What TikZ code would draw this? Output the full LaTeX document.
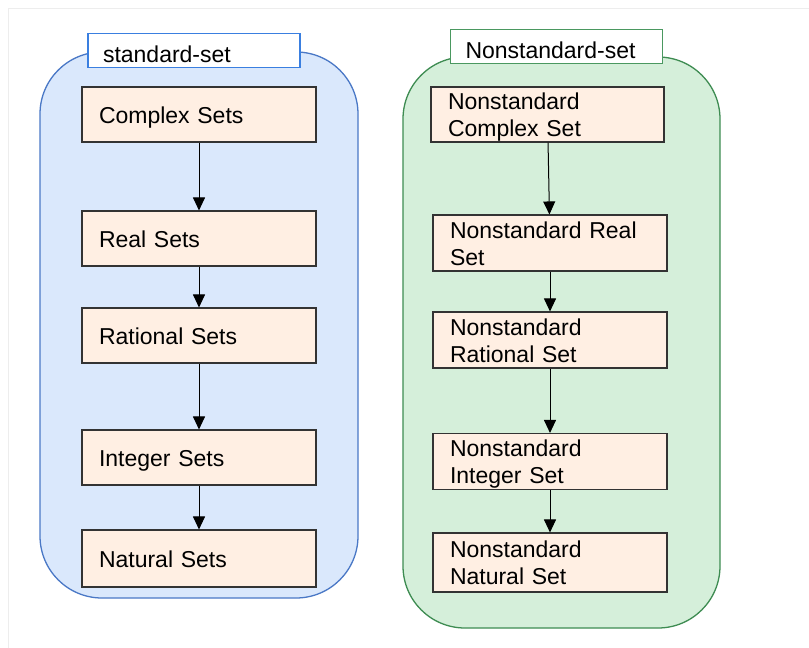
\documentclass[tikz,border=0pt]{standalone}
\usepackage{fontspec}
\setmainfont{Liberation Sans}
\usetikzlibrary{shapes,positioning,fit,calc,arrows.meta}

\definecolor{stdfill}{HTML}{DAE8FC}
\definecolor{stdline}{HTML}{4A78C6}
\definecolor{stdtitle}{HTML}{3A7FE0}
\definecolor{nsfill}{HTML}{D5EFDA}
\definecolor{nsline}{HTML}{3E8C52}
\definecolor{nstitle}{HTML}{4A9860}
\definecolor{setfill}{HTML}{FFEFE3}

\begin{document}
\begin{tikzpicture}[x=1pt,y=-1pt,
    setbox/.style={rectangle, draw=black!80, fill=setfill, line width=1.1pt,
        text width=200pt, inner xsep=17pt, inner ysep=0pt, minimum height=55pt,
        text height=17pt, text depth=0pt, align=left,
        font=\fontsize{23}{27}\selectfont},
    twoline/.style={setbox, text depth=27pt},
    titlebox/.style={rectangle, fill=white, line width=1.1pt,
        minimum width=212pt, minimum height=34pt, inner xsep=15pt, inner ysep=0pt,
        text height=23pt, text depth=0pt,
        text width=182pt, align=left, font=\fontsize{23}{27}\selectfont},
    arr/.style={-{Triangle[width=12pt,length=13pt]}, line width=1pt, black}]

        % Page and faint frame
        \useasboundingbox (0,0) rectangle (809,648);
        \draw[black!7, line width=1pt] (8,648) -- (8,8) -- (809,8);

        % The two containers
        \begin{scope}[line width=1.3pt, rounded corners=62pt]
            \draw[stdline, fill=stdfill] (40,52) rectangle (358,598);
            \draw[nsline, fill=nsfill] (403,57) rectangle (720,628);
        \end{scope}

        % Titles
        \node[titlebox, draw=stdtitle] (stdtitle) at (194,50.5) {standard-set};
        \node[titlebox, draw=nstitle, text height=24pt] (nstitle) at (556.5,46.5) {Nonstandard-set};

        % Standard sets
        \node[setbox] (complex) at (199,114.5) {Complex Sets};
        \node[setbox] (real) at (199,238.5) {Real Sets};
        \node[setbox] (rational) at (199,335.5) {Rational Sets};
        \node[setbox] (integer) at (199,457.5) {Integer Sets};
        \node[setbox, minimum height=57pt] (natural) at (199,558.5) {Natural Sets};

        % Nonstandard sets
        \node[twoline, text width=199pt] (nscomplex) at (547.5,114.5) {Nonstandard\\Complex Set};
        \node[twoline, minimum height=56pt] (nsreal) at (550,243) {Nonstandard Real\\Set};
        \node[twoline, minimum height=56pt] (nsrational) at (550,340) {Nonstandard\\Rational Set};
        \node[twoline, minimum height=56pt] (nsinteger) at (550,461.5) {Nonstandard\\Integer Set};
        \node[twoline, minimum height=59pt] (nsnatural) at (550,562.5) {Nonstandard\\Natural Set};

        % Inclusions
        \draw[arr] (complex) -- (real);
        \draw[arr] (real) -- (rational);
        \draw[arr] (rational) -- (integer);
        \draw[arr] (integer) -- (natural);

        \draw[arr] (nscomplex) -- (nsreal);
        \draw[arr] (nsreal) -- (nsrational);
        \draw[arr] (nsrational) -- (nsinteger);
        \draw[arr] (nsinteger) -- (nsnatural);

\end{tikzpicture}
\end{document}
